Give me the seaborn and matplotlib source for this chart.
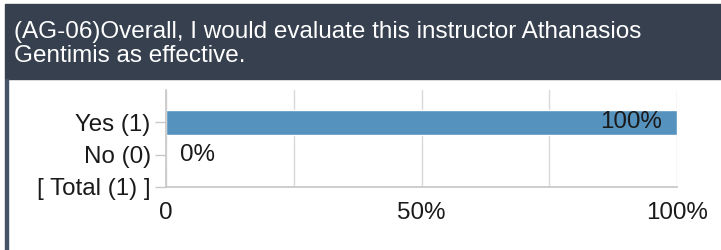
import matplotlib
matplotlib.use("Agg")
import matplotlib.pyplot as plt
import matplotlib.patches as mpatches
import seaborn as sns
import pandas as pd
import numpy as np

title_lines = ["(AG-06)Overall, I would evaluate this instructor Athanasios",
               "Gentimis as effective."]
categories = ["Yes (1)", "No (0)", "[ Total (1) ]"]
percent_values = [100, 0, np.nan]
value_labels = ["100%", "0%", ""]
x_ticks = [0, 50, 100]
x_tick_labels = ["0", "50%", "100%"]
x_minor_ticks = [25, 75]

sns.set_theme(style="white")
plt.rcParams['font.family'] = ['Liberation Sans', 'DejaVu Sans']

W, H = 721, 250
fig = plt.figure(figsize=(W / 100, H / 100), dpi=100)

header_color = "#36404e"
bar_color = "#5592be"
grid_color = "#d9d9d9"
text_color = "#1a1a1a"
fs = 17.4

# header box and left border
fig.patches.append(mpatches.Rectangle((5 / W, 1 - 79 / H), 1 - 5 / W, 75 / H,
                                      transform=fig.transFigure, color=header_color, zorder=0))
fig.patches.append(mpatches.Rectangle((5 / W, 0), 2.5 / W, 1 - 79 / H,
                                      transform=fig.transFigure, color="#46546a", zorder=0))
fig.text(14 / W, 1 - 38 / H, title_lines[0], color="white", fontsize=17.5, va="baseline", ha="left")
fig.text(14 / W, 1 - 62 / H, title_lines[1], color="white", fontsize=17.5, va="baseline", ha="left")

ax = fig.add_axes([166 / W, 1 - 187 / H, (677 - 166) / W, (187 - 90) / H])
df = pd.DataFrame({"category": categories, "percent": percent_values})
sns.barplot(data=df, x="percent", y="category", order=categories, color=bar_color,
            saturation=1, width=0.78, ax=ax, zorder=2)

ax.set_xlim(0, 100)
ax.set_ylim(2, -1)
ax.set_xticks(x_ticks)
ax.set_xticklabels(x_tick_labels)
ax.set_xticks(x_minor_ticks, minor=True)
ax.set_xlabel("")
ax.set_ylabel("")
ax.grid(axis="x", which="both", color=grid_color, linewidth=1, zorder=0)
ax.set_axisbelow(True)
for s in ["top", "right"]:
    ax.spines[s].set_visible(False)
ax.spines["left"].set_color("#c8c8c8")
ax.spines["bottom"].set_color("#c8c8c8")
ax.tick_params(axis="x", which="both", colors="#c8c8c8", length=4, width=1,
               labelcolor=text_color, labelsize=fs, pad=7)
ax.tick_params(axis="y", colors="#c8c8c8", length=8, width=1,
               labelcolor=text_color, labelsize=fs, pad=3, left=True)

for i, (v, lab) in enumerate(zip(percent_values, value_labels)):
    if not lab:
        continue
    if v >= 50:
        ax.text(v - 3, i, lab, ha="right", va="center", fontsize=fs, color=text_color, zorder=3)
    else:
        ax.text(v + 2.7, i, lab, ha="left", va="center", fontsize=fs, color=text_color, zorder=3)

fig.savefig("out.png", dpi=100)
